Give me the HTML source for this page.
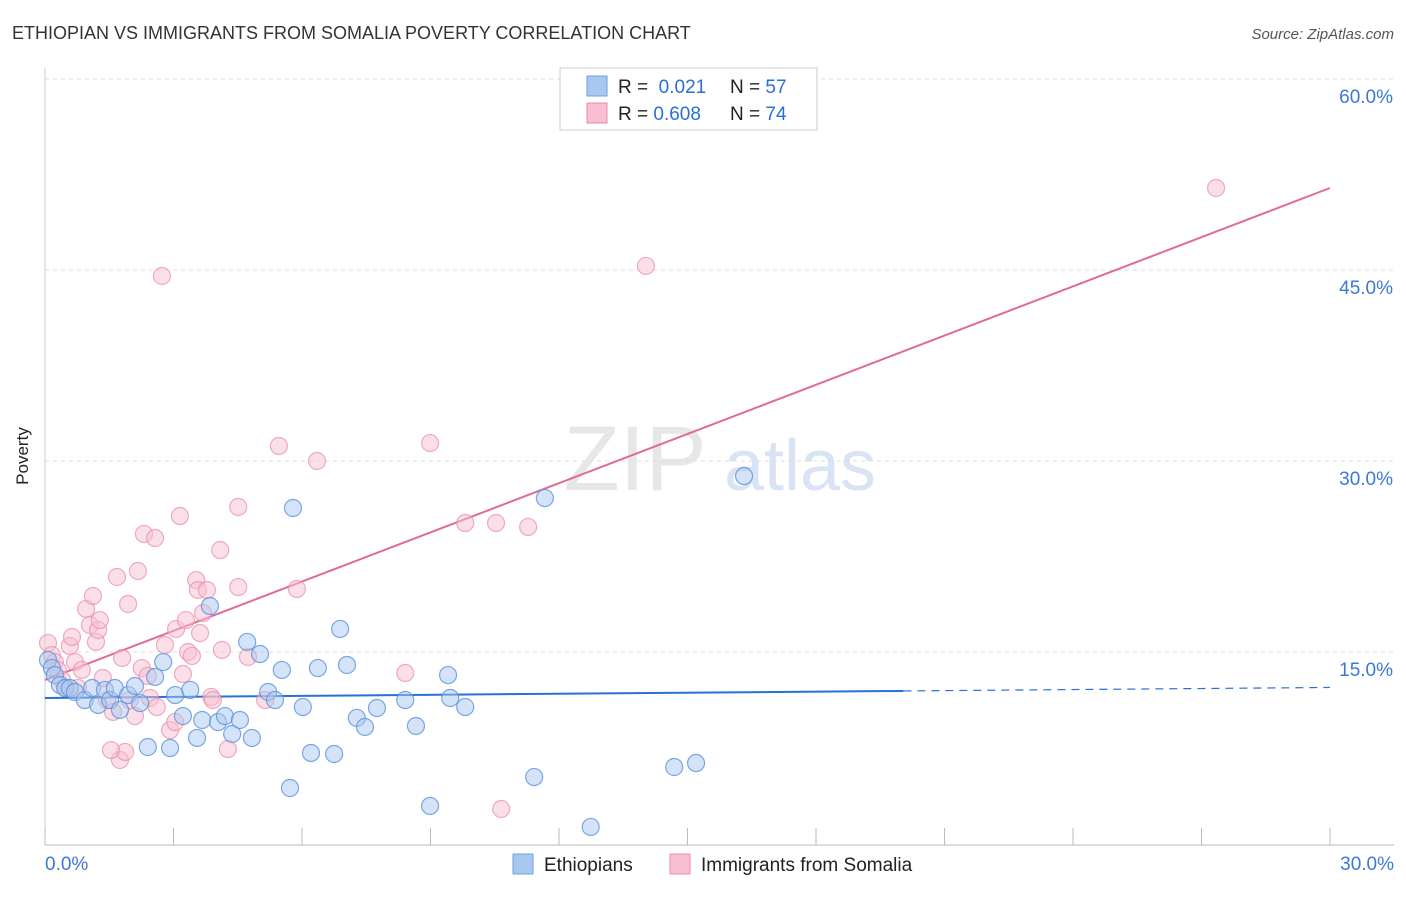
<!DOCTYPE html>
<html><head><meta charset="utf-8"><style>
body{margin:0;background:#fff;font-family:"Liberation Sans",sans-serif;}
svg text{font-family:"Liberation Sans",sans-serif;}
</style></head><body>
<svg id="chart" width="1406" height="892" xmlns="http://www.w3.org/2000/svg">
<text x="12" y="39" font-size="18" fill="#333">ETHIOPIAN VS IMMIGRANTS FROM SOMALIA POVERTY CORRELATION CHART</text>
<text x="1394" y="39" font-size="15" fill="#555" text-anchor="end" font-style="italic">Source: ZipAtlas.com</text>
<text x="28" y="456" font-size="17" fill="#222" transform="rotate(-90 28 456)" text-anchor="middle">Poverty</text>
<g>
<text x="635" y="490" font-size="92" fill="#ddd" font-family="Liberation Serif" text-anchor="middle" opacity="0.7">ZIP</text>
<text x="800" y="490" font-size="72" fill="#c8d8ef" text-anchor="middle" opacity="0.7">atlas</text>
</g>
<g id="grid"></g>
<g id="axes"></g>
<g id="lines"></g>
<g id="points"></g>
<g>
<rect x="560" y="68" width="257" height="62" fill="#fff" stroke="#ccc"/>
<rect x="587" y="76" width="20" height="20" fill="#a9c8f0" stroke="#6a9fe0"/>
<rect x="587" y="103" width="20" height="20" fill="#f7bfd1" stroke="#e88aa8"/>
<text x="618" y="93" font-size="19" fill="#222">R = <tspan fill="#2a6fd6">&#160;0.021</tspan></text>
<text x="730" y="93" font-size="19" fill="#222">N = <tspan fill="#2a6fd6">57</tspan></text>
<text x="618" y="120" font-size="19" fill="#222">R = <tspan fill="#2a6fd6">0.608</tspan></text>
<text x="730" y="120" font-size="19" fill="#222">N = <tspan fill="#2a6fd6">74</tspan></text>
</g>
<g>
<rect x="513" y="854" width="20" height="20" fill="#a9c8f0" stroke="#6a9fe0"/>
<text x="544" y="871" font-size="19" fill="#222">Ethiopians</text>
<rect x="670" y="854" width="20" height="20" fill="#f7bfd1" stroke="#e88aa8"/>
<text x="701" y="871" font-size="19" fill="#222">Immigrants from Somalia</text>
</g>
</svg>
<script>
const yTicks=[15,30,45,60];
const yTickLabels=["15.0%","30.0%","45.0%","60.0%"];
const xTicks=[0,3,6,9,12,15,18,21,24,27,30];
const ethX=[0.07,0.16,0.23,0.35,0.47,0.58,0.70,0.93,1.10,1.24,1.40,1.52,1.63,1.75,1.94,2.10,2.22,2.40,2.57,2.76,2.92,3.04,3.22,3.39,3.55,3.67,3.85,4.04,4.20,4.37,4.55,4.72,4.83,5.02,5.21,5.37,5.53,5.79,6.02,6.21,6.37,6.75,6.89,7.05,7.28,7.47,7.75,8.41,8.66,8.99,9.41,9.46,9.81,11.42,11.67,12.74,14.69,15.20,16.32,5.72];
const ethY=[14.37,13.75,13.19,12.41,12.17,12.17,11.86,11.23,12.17,10.84,12.02,11.23,12.17,10.45,11.62,12.33,10.99,7.54,13.04,14.21,7.46,11.62,9.97,12.02,8.25,9.66,18.61,9.50,9.97,8.56,9.66,15.79,8.25,14.84,11.86,11.23,13.59,26.31,10.68,7.07,13.74,6.99,16.81,13.98,9.82,9.11,10.60,11.23,9.19,2.91,13.19,11.39,10.68,5.18,27.09,1.26,5.97,6.28,28.82,4.32];
const somX=[0.07,0.16,0.23,0.30,0.40,0.49,0.58,0.63,0.70,0.77,0.86,0.96,1.05,1.12,1.19,1.24,1.28,1.35,1.45,1.59,1.68,1.75,1.80,1.87,1.94,1.98,2.10,2.17,2.26,2.31,2.40,2.45,2.57,2.61,2.73,2.80,2.92,3.04,3.06,3.15,3.22,3.29,3.34,3.43,3.53,3.57,3.62,3.69,3.78,3.88,3.92,4.09,4.13,4.27,4.51,4.51,4.74,5.14,5.46,5.88,6.35,8.41,8.99,9.81,10.53,10.65,11.28,14.03,27.34,1.54];
const somY=[15.71,14.76,14.21,13.59,12.80,12.17,15.47,16.18,14.21,12.17,13.59,18.38,17.12,19.40,15.79,16.73,17.51,12.96,11.23,10.29,20.89,6.52,14.53,7.15,18.77,11.23,9.97,21.36,13.74,24.27,13.12,11.39,23.95,10.68,44.53,15.55,8.87,9.50,16.81,25.68,13.27,17.51,15.00,14.69,20.65,19.87,16.49,18.06,19.87,11.47,11.23,23.01,15.16,7.38,20.10,26.39,14.61,11.23,31.18,19.95,30.00,13.35,31.41,25.13,25.13,2.67,24.82,45.32,51.44,7.30];
const ethFit=[11.39,0.0275]; // intercept, slope
const ethSolidEnd=20.04;
const somFit=[12.80,1.288];
const NS='http://www.w3.org/2000/svg';
const X=v=>45+v/30*1285;
const Y=v=>843-v/15*191;
function mk(tag,attrs,parent){const e=document.createElementNS(NS,tag);for(const k in attrs)e.setAttribute(k,attrs[k]);document.getElementById(parent).appendChild(e);return e;}
yTicks.forEach((t,i)=>{
 const l=mk('line',{x1:45,x2:1394,y1:Y(t),y2:Y(t),stroke:'#ddd','stroke-dasharray':'4,4'},'grid');
 
 
 const tx=mk('text',{x:1393,y:Y(t)+24,'font-size':19,fill:'#3b78d8','text-anchor':'end'},'grid');
 tx.textContent=yTickLabels[i];
 
 
});
const ax=mk('line',{x1:45,x2:1394,y1:845,y2:845,stroke:'#bbb'},'axes');


const ay=mk('line',{x1:45,x2:45,y1:68,y2:845,stroke:'#ccc'},'axes');


xTicks.forEach(t=>{const l=mk('line',{x1:X(t),x2:X(t),y1:828,y2:845,stroke:'#bbb'},'axes');
 
 });
const xl0=mk('text',{x:45,y:870,'font-size':19,fill:'#3b78d8'},'axes');xl0.textContent='0.0%';


const xl1=mk('text',{x:1394,y:870,'font-size':19,fill:'#3b78d8','text-anchor':'end'},'axes');xl1.textContent='30.0%';


somX.forEach((x,i)=>{const c=mk('circle',{cx:X(x),cy:Y(somY[i]),r:8.5,fill:'#f7bfd1','fill-opacity':0.5,stroke:'#e88aa8','stroke-opacity':0.7,'stroke-width':1.2},'points');
 
 });
ethX.forEach((x,i)=>{const c=mk('circle',{cx:X(x),cy:Y(ethY[i]),r:8.5,fill:'#a9c8f0','fill-opacity':0.5,stroke:'#5b93dc','stroke-opacity':0.8,'stroke-width':1.2},'points');
 
 });
const ef=v=>ethFit[0]+ethFit[1]*v, sf=v=>somFit[0]+somFit[1]*v;
const b1=mk('line',{x1:X(0),y1:Y(ef(0)),x2:X(ethSolidEnd),y2:Y(ef(ethSolidEnd)),stroke:'#2a6fd6','stroke-width':2},'lines');


const b2=mk('line',{x1:X(ethSolidEnd),y1:Y(ef(ethSolidEnd)),x2:X(30),y2:Y(ef(30)),stroke:'#2a6fd6','stroke-width':1.2,'stroke-dasharray':'8,6'},'lines');


const p1=mk('line',{x1:X(0),y1:Y(sf(0)),x2:X(30),y2:Y(sf(30)),stroke:'#e06a95','stroke-width':2},'lines');


</script>
</body></html>
